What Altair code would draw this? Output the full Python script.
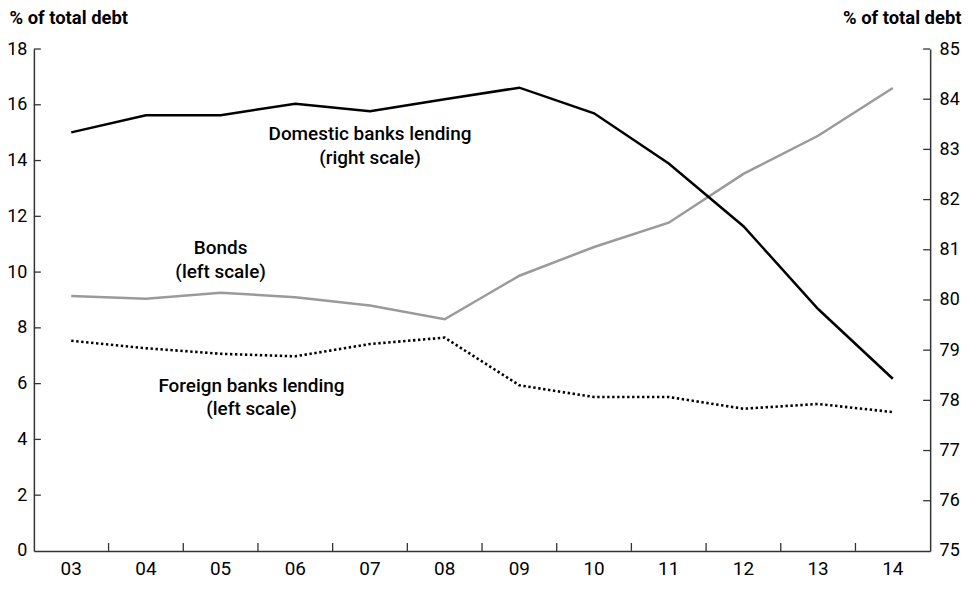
import altair as alt
import pandas as pd

years = ["03", "04", "05", "06", "07", "08", "09", "10", "11", "12", "13", "14"]
bonds = [9.14, 9.04, 9.26, 9.10, 8.80, 8.31, 9.87, 10.90, 11.77, 13.52, 14.89, 16.60]
foreign = [7.54, 7.27, 7.07, 6.98, 7.42, 7.65, 5.94, 5.52, 5.52, 5.10, 5.27, 4.98]
domestic = [83.34, 83.68, 83.68, 83.91, 83.76, 84.00, 84.23, 83.72, 82.72, 81.47, 79.82, 78.43]

left_ticks = [0, 2, 4, 6, 8, 10, 12, 14, 16, 18]
right_ticks = [75, 76, 77, 78, 79, 80, 81, 82, 83, 84, 85]
axis_title = "% of total debt"

annot_text = ["Domestic banks lending\n(right scale)", "Bonds\n(left scale)", "Foreign banks lending\n(left scale)"]
annot_year = ["07", "05", "05"]
annot_val = [14.96, 10.87, 5.93]

FONT = "Roboto"
W, H = 900, 504
AX = "#333333"

df = pd.DataFrame({"year": years, "bonds": bonds, "foreign": foreign, "domestic": domestic})
df_lt = pd.DataFrame({"v": left_ticks[1:]})
df_rt = pd.DataFrame({"rv": right_ticks[1:]})
df_xt = pd.DataFrame({"year": years[1:]})
df_an = pd.DataFrame({"year": annot_year, "v": annot_val, "label": annot_text})

xscale = alt.Scale(type="band", domain=years, paddingInner=0, paddingOuter=0)
lscale = alt.Scale(domain=[0, 18], nice=False, zero=False)
rscale = alt.Scale(domain=[75, 85], nice=False, zero=False)

x_axis = alt.Axis(title=None, ticks=False, labelPadding=9, labelFont=FONT,
                  labelFontSize=19, labelColor="black", domainColor=AX, domainWidth=1.5,
                  labelBaseline="top", grid=False, labelAngle=0)

left_axis = alt.Axis(values=left_ticks, orient="left", title=axis_title, titleAngle=0,
                     titleAlign="left", titleX=-25, titleY=-25.5, titleBaseline="alphabetic",
                     titleFont=FONT, titleFontSize=18.5, titleFontWeight="bold", titleColor="black",
                     ticks=False, labelPadding=7, labelFont=FONT, labelFontSize=18,
                     labelColor="black", domainColor=AX, domainWidth=1.5, grid=False)

right_axis = alt.Axis(values=right_ticks, orient="right", title=axis_title, titleAngle=0,
                      titleAlign="right", titleX=31, titleY=-25.5, titleBaseline="alphabetic",
                      titleFont=FONT, titleFontSize=18.5, titleFontWeight="bold", titleColor="black",
                      ticks=False, labelPadding=9, labelFont=FONT, labelFontSize=18,
                      labelColor="black", domainColor=AX, domainWidth=1.5, grid=False)

base = alt.Chart(df)
xenc = alt.X("year:N", scale=xscale)

bonds_line = base.mark_line(color="#9a9a9a", strokeWidth=2.5).encode(
    x=alt.X("year:N", scale=xscale, axis=x_axis),
    y=alt.Y("bonds:Q", scale=lscale, axis=left_axis),
)

foreign_line = base.mark_line(color="black", strokeWidth=2.6, strokeDash=[2.4, 2.6]).encode(
    x=xenc,
    y=alt.Y("foreign:Q", scale=lscale, axis=None),
)

domestic_line = base.mark_line(color="black", strokeWidth=2.5).encode(
    x=xenc,
    y=alt.Y("domestic:Q", scale=rscale, axis=right_axis),
)

left_tick_rules = alt.Chart(df_lt).mark_rule(color=AX, strokeWidth=1.3).encode(
    y=alt.Y("v:Q", scale=lscale, axis=None),
    x=alt.value(0),
    x2=alt.value(7),
)

right_tick_rules = alt.Chart(df_rt).mark_rule(color=AX, strokeWidth=1.3).encode(
    y=alt.Y("rv:Q", scale=rscale, axis=None),
    x=alt.value(W - 7),
    x2=alt.value(W),
)

x_tick_rules = alt.Chart(df_xt).mark_rule(color=AX, strokeWidth=1.3).encode(
    x=alt.X("year:N", scale=xscale, bandPosition=0),
    y=alt.value(H - 8),
    y2=alt.value(H),
)

text_main = alt.Chart(df_an.iloc[:2]).mark_text(
    font=FONT, fontSize=19, fontWeight=500, color="black", align="center",
    baseline="middle", lineBreak="\n", lineHeight=24,
).encode(
    x=xenc,
    y=alt.Y("v:Q", scale=lscale, axis=None),
    text="label:N",
)

text_foreign = alt.Chart(df_an.iloc[2:]).mark_text(
    font=FONT, fontSize=19, fontWeight=500, color="black", align="center",
    baseline="middle", lineBreak="\n", lineHeight=24, dx=31,
).encode(
    x=xenc,
    y=alt.Y("v:Q", scale=lscale, axis=None),
    text="label:N",
)

chart = alt.layer(
    bonds_line, domestic_line, foreign_line,
    left_tick_rules, right_tick_rules, x_tick_rules,
    text_main, text_foreign,
).resolve_scale(y="independent").properties(
    width=W, height=H,
    autosize=alt.AutoSizeParams(type="none"),
    padding={"left": 26, "top": 40, "right": 36, "bottom": 28},
).configure(background="white").configure_view(stroke=None)

chart.save("out.html", embed_options={"renderer": "svg", "actions": False})
